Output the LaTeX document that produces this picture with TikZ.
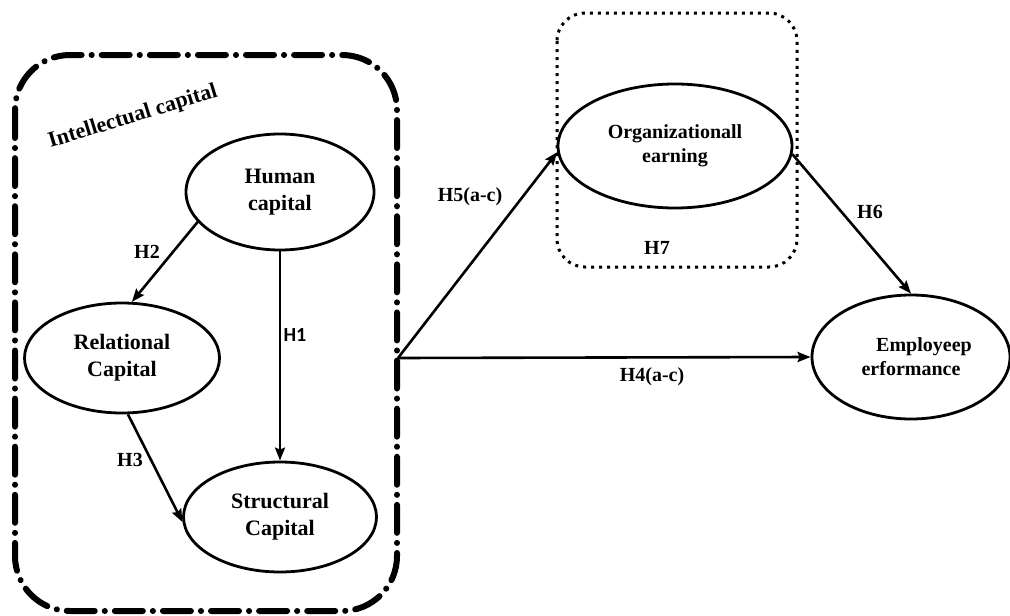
\documentclass[tikz,border=0pt]{standalone}
\usepackage{fontspec}
\setmainfont{Liberation Serif}
\newfontfamily\carlitofont{Carlito}
\usetikzlibrary{arrows.meta,shapes.geometric}
\tikzset{
  ell/.style={ellipse, draw, line width=2.8pt, inner sep=0pt, align=center,
    font=\fontsize{22}{27}\selectfont\bfseries},
  ellsmall/.style={ell, font=\fontsize{20}{24}\selectfont\bfseries},
  lab/.style={font=\fontsize{20}{24}\selectfont\bfseries, inner sep=0pt},
  arr/.style={line width=2.6pt, -{Stealth[length=13pt,width=10pt,inset=2pt]}},
  dashdotbox/.style={line width=6pt, line cap=round, rounded corners=55pt,
    dash pattern=on 28pt off 10pt on 0.1pt off 10pt},
  dotbox/.style={line width=3pt, rounded corners=28pt, dash pattern=on 3pt off 5pt}
}
\begin{document}
\begin{tikzpicture}[x=1pt,y=-1pt]
\useasboundingbox (0,0) rectangle (1010,616);
\fill[white] (0,0) rectangle (1010,616);
% boxes
\draw[dashdotbox] (15,55) rectangle (397,611);
\draw[dotbox] (557,13) rectangle (797,267);
\node[rotate=17, font=\fontsize{22}{26}\selectfont\bfseries, inner sep=0pt] (ic) at (133,117) {Intellectual capital};
% ellipses
\node[ell, minimum width=188pt, minimum height=116pt] (human) at (280,192) {Human\\capital};
\node[ell, minimum width=195pt, minimum height=110pt] (rel) at (122,358) {Relational\\Capital};
\node[ell, minimum width=193pt, minimum height=110pt] (str) at (280,517) {Structural\\Capital};
\node[ellsmall, minimum width=234pt, minimum height=124pt] (org) at (675,146) {Organizationall\\earning};
\node[ellsmall, minimum width=198pt, minimum height=124pt] (emp) at (911,357) {\hspace*{26pt}Employeep\\erformance};
% connectors
\coordinate (src) at (398,358);
\draw[arr] (human.200) -- (rel.80);
\draw[arr] (human.south) -- (str.north);
\draw[arr] (rel.-84) -- (str.183);
\draw[arr] (src) -- (org.183);
\draw[arr] (src) -- (emp.west);
\draw[arr] (org.-4) -- (emp.north);
% labels
\node[lab] (h2) at (147,252) {H2};
\node[lab, font=\fontsize{20}{24}\selectfont\bfseries\carlitofont] (h1) at (295,335) {H1};
\node[lab] (h3) at (130,460) {H3};
\node[lab] (h5) at (470,197) {H5(a-c)};
\node[lab] (h4) at (652,377) {H4(a-c)};
\node[lab] (h6) at (870,212) {H6};
\node[lab] (h7) at (657,248) {H7};
\end{tikzpicture}
\end{document}
